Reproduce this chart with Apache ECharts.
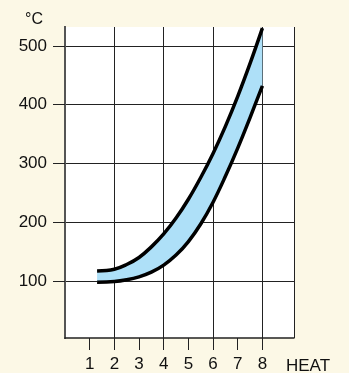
<!DOCTYPE html>
<html>
<head>
<meta charset="utf-8">
<script src="https://cdn.jsdelivr.net/npm/echarts@6/dist/echarts.min.js"></script>
<style>
  html, body { margin: 0; padding: 0; background: #fcf8e6; }
  #chart { width: 349px; height: 373px; }
</style>
</head>
<body>
<div id="chart"></div>
<script>
// heat setting -> temperature band
const heatSteps = [1.3, 2, 2.5, 3, 3.5, 4, 4.5, 5, 5.5, 6, 6.5, 7, 7.5, 8];
const upperTemp = [117, 120, 128, 140, 158, 180, 207, 239, 276, 317, 363, 414, 470, 530];
const lowerTemp = [98, 99, 102, 107, 115, 127, 144, 167, 197, 234, 278, 326, 378, 432];
const xTicks = [1, 2, 3, 4, 5, 6, 7, 8];
const yTicks = [100, 200, 300, 400, 500];

const font = 'Arial, "Liberation Sans", sans-serif';
const chart = echarts.init(document.getElementById('chart'));

// temperature first so the stack runs on y, heat mapped to x through encode
const lowerData = heatSteps.map((x, i) => [lowerTemp[i], x]);
const bandData = heatSteps.map((x, i) => [upperTemp[i] - lowerTemp[i], x]);

const option = {
  backgroundColor: '#fcf8e6',
  animation: false,
  grid: {
    left: 65, top: 27, width: 229, height: 313,
    show: true, backgroundColor: '#fff', borderWidth: 0
  },
  xAxis: [{
    type: 'value', min: 0, max: 9.28,
    axisLine: { show: true, lineStyle: { color: '#222', width: 1.5 } },
    axisTick: { show: true, length: 12, inside: false, customValues: xTicks, lineStyle: { color: '#222' } },
    axisLabel: { show: true, customValues: xTicks, margin: 18, color: '#111', fontSize: 17, fontFamily: font },
    splitLine: { show: false }
  }, {
    // vertical grid lines at every second step
    type: 'value', min: 0, max: 9.28, interval: 2,
    axisLine: { show: false }, axisTick: { show: false }, axisLabel: { show: false },
    splitLine: { show: true, lineStyle: { color: '#222', width: 1 } }
  }],
  yAxis: [{
    type: 'value', min: 3, max: 532,
    axisLine: { show: true, lineStyle: { color: '#222', width: 2 } },
    axisTick: { show: true, length: 12, customValues: yTicks, lineStyle: { color: '#222' } },
    axisLabel: { show: true, customValues: yTicks, margin: 18, color: '#111', fontSize: 17, fontFamily: font },
    splitLine: { show: true, lineStyle: { color: '#222', width: 1 } }
  }, {
    type: 'value', min: 3, max: 532, position: 'right',
    axisLine: { show: true, lineStyle: { color: '#555', width: 2 } },
    axisTick: { show: false }, axisLabel: { show: false }, splitLine: { show: false }
  }],
  series: [{
    name: 'lower', type: 'line', stack: 'band', data: lowerData,
    encode: { x: 1, y: 0 },
    smooth: 0.4, symbol: 'none', z: 4,
    lineStyle: { color: '#000', width: 3.5, cap: 'butt' }
  }, {
    name: 'band', type: 'line', stack: 'band', data: bandData,
    encode: { x: 1, y: 0 },
    smooth: 0.4, symbol: 'none', z: 3,
    lineStyle: { color: '#000', width: 3.5, cap: 'butt' },
    areaStyle: { color: '#aee0f8', opacity: 1 }
  }],
  graphic: [
    { type: 'text', left: 25, top: 12, style: { text: '°C', fontSize: 16, fontFamily: font, fill: '#111' } },
    { type: 'text', left: 286, top: 358, style: { text: 'HEAT', fontSize: 17, fontFamily: font, fill: '#111' } }
  ]
};

chart.setOption(option);
</script>
</body>
</html>
